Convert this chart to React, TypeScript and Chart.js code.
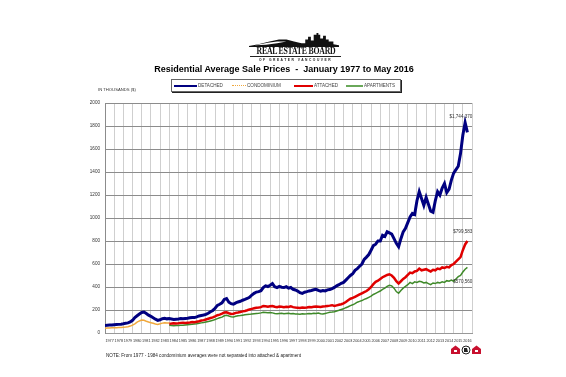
import React, { useEffect, useRef } from "react";
import { Chart, registerables } from "chart.js";

Chart.register(...registerables);

// ---- Data (thousands of $), quarterly readings from the reference ----
const detachedStart = 1977;
const detached = [
  66, 68, 70, 69, 72, 74, 75, 77, 80, 84, 88, 96, 110, 135, 150, 165,
  178, 182, 170, 155, 145, 132, 120, 110, 115, 124, 128, 123, 126, 122, 118, 120,
  122, 125, 123, 126, 128, 132, 135, 134, 140, 148, 152, 156, 162, 172, 185, 196,
  215, 240, 250, 262, 292, 300, 268, 255, 250, 262, 270, 276, 285, 292, 300, 310,
  330, 345, 356, 360, 368, 395, 410, 404, 415, 430, 402, 395, 405, 398, 395, 402,
  390, 396, 380, 374, 365, 350, 344, 355, 360, 366, 370, 376, 380, 370, 364, 370,
  366, 375, 378, 386, 396, 410, 420, 432, 440, 460, 480, 500, 515, 545, 560, 580,
  600, 640, 660, 682, 720, 760, 772, 800, 800, 850, 840, 880, 870, 860, 820, 780,
  750, 820, 880, 910, 960, 1010, 1040, 1030, 1150, 1230, 1170, 1110, 1180, 1120, 1060, 1050,
  1150, 1230, 1200, 1260, 1300, 1220, 1250, 1330, 1390, 1420, 1450, 1560, 1720, 1830, 1744,
];
const condoStart = 1977;
const condominium = [
  42, 43, 44, 45, 46, 46, 47, 48, 50, 52, 55, 60, 68, 80, 95, 105,
  112, 110, 102, 95, 90, 85, 78, 75, 80, 86, 90, 88, 88,
];
const attachedStart = 1984;
const attached = [
  80, 82, 85, 83, 85, 88, 90, 88, 90, 92, 95, 94, 98, 102, 108, 112,
  118, 124, 130, 136, 145, 155, 160, 168, 178, 180, 172, 165, 168, 175, 178, 182,
  188, 192, 198, 205, 210, 215, 220, 222, 225, 235, 232, 228, 232, 235, 228, 225,
  230, 228, 225, 228, 226, 232, 225, 222, 220, 218, 222, 220, 222, 225, 224, 228,
  230, 228, 226, 230, 232, 235, 238, 242, 235, 240, 245, 250, 258, 270, 285, 298,
  305, 315, 325, 335, 345, 355, 365, 380, 400, 425, 445, 455, 470, 485, 495, 505,
  510, 500, 480, 450, 430, 450, 470, 485, 505, 525, 520, 535, 540, 560, 545, 550,
  555, 545, 535, 550, 545, 560, 555, 570, 565, 575, 570, 590, 600, 620, 640, 660,
  720, 770, 800,
];
const apartmentsStart = 1984;
const apartments = [
  68, 66, 64, 65, 66, 67, 68, 70, 72, 74, 76, 78, 80, 84, 88, 92,
  96, 100, 105, 110, 118, 125, 132, 138, 150, 155, 148, 142, 140, 145, 150, 152,
  155, 158, 160, 162, 165, 168, 170, 172, 175, 180, 178, 176, 178, 175, 170, 168,
  170, 172, 168, 170, 172, 168, 170, 166, 165, 164, 168, 165, 167, 170, 168, 172,
  170, 174, 168, 165, 170, 175, 180, 182, 185, 192, 198, 205, 210, 220, 228, 238,
  245, 255, 268, 275, 282, 292, 300, 310, 320, 335, 345, 355, 365, 380, 390, 405,
  415, 410, 390, 360, 345, 370, 390, 405, 420, 440, 430, 445, 440, 450, 445, 435,
  440, 430, 420, 435, 430, 440, 435, 445, 440, 455, 450, 460, 450, 470, 490, 500,
  530, 555, 570,
];
const endLabels = ["$1,744,370", "$799,583", "$570,560"];
const yearLabels = [
  "1977", "1978", "1979", "1980", "1981", "1982", "1983", "1984", "1985", "1986",
  "1987", "1988", "1989", "1990", "1991", "1992", "1993", "1994", "1995", "1996",
  "1997", "1998", "1999", "2000", "2001", "2002", "2003", "2004", "2005", "2006",
  "2007", "2008", "2009", "2010", "2011", "2012", "2013", "2014", "2015", "2016",
];
const STEP = 0.25;

const toPoints = (start: number, vals: number[]) =>
  vals.map((v, i) => ({ x: start + i * STEP, y: v }));

const FONT = "'Liberation Sans', Arial, sans-serif";

const endLabelPlugin = {
  id: "endLabels",
  afterDatasetsDraw(chart: any) {
    const ctx = chart.ctx;
    const offsets = [
      { ds: 0, dy: -16 },
      { ds: 2, dy: -9 },
      { ds: 3, dy: 14 },
    ];
    ctx.save();
    ctx.font = `4.6px ${FONT}`;
    ctx.fillStyle = "#333";
    ctx.textAlign = "right";
    ctx.textBaseline = "middle";
    offsets.forEach((o, i) => {
      const meta = chart.getDatasetMeta(o.ds);
      const pt = meta.data[meta.data.length - 1];
      ctx.fillText(endLabels[i], pt.x + 5, pt.y + o.dy);
    });
    ctx.restore();
  },
};

function Skyline() {
  return (
    <svg width="92" height="15" viewBox="0 0 96 16" style={{ display: "block" }}>
      <polygon
        fill="#111"
        points="0,15 10,13 22,10 32,8 40,8 48,10 56,12 60,12 60,8 63,8 63,5 66,5 66,9 69,9 69,3 72,3 72,1 74,1 74,3 76,3 76,7 79,7 79,4 82,4 82,8 85,8 85,10 90,10 90,13 96,14 96,16 0,16"
      />
      <polygon fill="#fff" points="6,14 20,11.5 30,10 40,10 30,12 18,13.5" />
    </svg>
  );
}

function Badges() {
  return (
    <svg width="30" height="10" viewBox="0 0 30 10" style={{ display: "block" }}>
      <polygon fill="#c8102e" points="0,4 4.5,0.5 9,4 9,9 0,9" />
      <rect x="3" y="5" width="3" height="2" fill="#fff" />
      <circle cx="15" cy="5" r="4" fill="#fff" stroke="#222" strokeWidth="1" />
      <path d="M13 3 L16 3 L17 7 L13 7 Z" fill="#222" />
      <polygon fill="#c8102e" points="21,4 25.5,0.5 30,4 30,9 21,9" />
      <rect x="24" y="5" width="3" height="2" fill="#fff" />
    </svg>
  );
}

function LegendItem({ left, color, dashed, text, lineW }: any) {
  return (
    <div style={{ position: "absolute", left, top: 0, height: 11, display: "flex", alignItems: "center" }}>
      <div
        style={{
          width: lineW,
          height: 0,
          borderTop: dashed ? `1.5px dotted ${color}` : `2px solid ${color}`,
        }}
      />
      <span style={{ fontSize: 4.6, color: "#444", fontFamily: FONT, marginLeft: 1 }}>{text}</span>
    </div>
  );
}

export default function App() {
  const ref = useRef<HTMLCanvasElement | null>(null);

  useEffect(() => {
    if (!ref.current) return;
    const chart = new Chart(ref.current, {
      type: "line",
      data: {
        datasets: [
          {
            label: "DETACHED",
            data: toPoints(detachedStart, detached),
            borderColor: "#000080",
            borderWidth: 3,
            pointRadius: 0,
          },
          {
            label: "CONDOMINIUM",
            data: toPoints(condoStart, condominium),
            borderColor: "#f0a83c",
            borderWidth: 1.5,
            pointRadius: 0,
          },
          {
            label: "ATTACHED",
            data: toPoints(attachedStart, attached),
            borderColor: "#e00000",
            borderWidth: 2.5,
            pointRadius: 0,
          },
          {
            label: "APARTMENTS",
            data: toPoints(apartmentsStart, apartments),
            borderColor: "#3f8a2a",
            borderWidth: 1.5,
            pointRadius: 0,
          },
        ],
      },
      options: {
        responsive: false,
        animation: false,
        layout: { padding: { left: 60, right: 94, top: 103, bottom: 14 } },
        plugins: { legend: { display: false }, tooltip: { enabled: false }, title: { display: false } },
        elements: { line: { tension: 0 } },
        scales: {
          x: {
            type: "linear",
            min: 1977,
            max: 2017,
            afterBuildTicks: (s: any) => {
              s.ticks = [];
              for (let i = 0; i <= yearLabels.length; i++) s.ticks.push({ value: 1977 + i });
            },
            ticks: {
              autoSkip: false,
              maxRotation: 0,
              minRotation: 0,
              labelOffset: 4.6,
              padding: 6,
              color: "#333",
              font: { size: 3.8, family: FONT },
              callback: (v: any, i: number) => yearLabels[i] ?? "",
            },
            grid: { color: "#cfcfcf", drawTicks: false, lineWidth: 1 },
            border: { color: "#999" },
            afterFit: (s: any) => {
              s.height = 30;
            },
          },
          y: {
            min: 0,
            max: 2000,
            ticks: {
              stepSize: 200,
              padding: 5,
              color: "#333",
              font: { size: 4.6, family: FONT },
              callback: (v: any) => String(v),
            },
            grid: { color: "#8c8c8c", drawTicks: false },
            border: { color: "#8c8c8c" },
            afterFit: (s: any) => {
              s.width = 45;
            },
          },
        },
      },
      plugins: [endLabelPlugin],
    });
    return () => chart.destroy();
  }, []);

  return (
    <div style={{ position: "fixed", left: 0, top: 0, width: 566, height: 377, background: "#fff", overflow: "hidden" }}>
      <canvas ref={ref} width={566} height={377} style={{ position: "absolute", left: 0, top: 0 }} />
      {/* Logo */}
      <div style={{ position: "absolute", left: 248, top: 32 }}>
        <Skyline />
      </div>
      <div
        style={{
          position: "absolute",
          left: 236,
          top: 46,
          width: 120,
          textAlign: "center",
          fontFamily: "'Liberation Serif', 'DejaVu Serif', serif",
          fontWeight: "bold",
          fontSize: 10.5,
          lineHeight: "10px",
          color: "#111",
          transform: "scaleX(0.74)",
          letterSpacing: -0.3,
        }}
      >
        REAL ESTATE BOARD
      </div>
      <div
        style={{
          position: "absolute",
          left: 250,
          top: 56,
          width: 91,
          textAlign: "center",
          fontFamily: FONT,
          fontWeight: "bold",
          fontSize: 3.3,
          letterSpacing: 1.5,
          color: "#222",
          borderTop: "1px solid #222",
          paddingTop: 0.5,
          lineHeight: "4px",
        }}
      >
        OF GREATER VANCOUVER
      </div>
      {/* Title */}
      <div
        style={{
          position: "absolute",
          left: 0,
          width: 568,
          top: 64,
          textAlign: "center",
          fontFamily: FONT,
          fontWeight: "bold",
          fontSize: 9,
          color: "#000",
          whiteSpace: "pre",
        }}
      >
        {"Residential Average Sale Prices  -  January 1977 to May 2016"}
      </div>
      {/* Legend */}
      <div
        style={{
          position: "absolute",
          left: 171,
          top: 79,
          width: 228,
          height: 11,
          border: "1px solid #666",
          boxShadow: "1px 1px 0 #222",
          background: "#fff",
        }}
      >
        <LegendItem left={2} color="#000080" text="DETACHED" lineW={23} />
        <LegendItem left={60} color="#f0a83c" dashed text="CONDOMINIUM" lineW={14} />
        <LegendItem left={122} color="#e00000" text="ATTACHED" lineW={19} />
        <LegendItem left={174} color="#6aa85a" text="APARTMENTS" lineW={17} />
      </div>
      {/* Axis unit */}
      <div style={{ position: "absolute", left: 98, top: 87, fontFamily: FONT, fontSize: 4.2, color: "#333", whiteSpace: "nowrap" }}>
        IN THOUSANDS ($)
      </div>
      {/* Note */}
      <div style={{ position: "absolute", left: 106, top: 353, fontFamily: FONT, fontSize: 4.6, color: "#222", whiteSpace: "nowrap" }}>
        NOTE:  From 1977 - 1984 condominium averages were not separated into attached &amp; apartment
      </div>
      <div style={{ position: "absolute", left: 451, top: 345 }}>
        <Badges />
      </div>
    </div>
  );
}
